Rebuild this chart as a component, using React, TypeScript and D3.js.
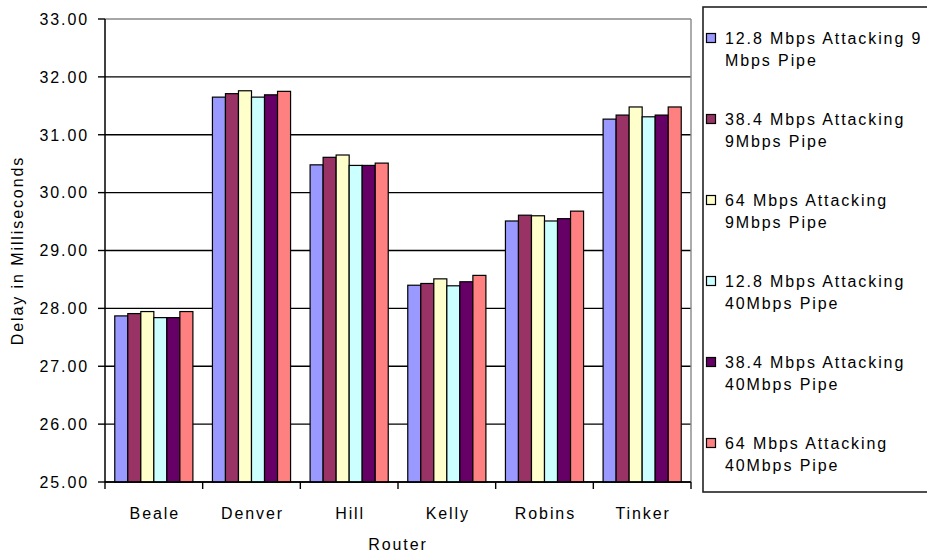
import React from "react";
import * as d3 from "d3";

const categories = ["Beale", "Denver", "Hill", "Kelly", "Robins", "Tinker"];
const seriesLabels = [
  ["12.8 Mbps Attacking 9", "Mbps Pipe"],
  ["38.4 Mbps Attacking", "9Mbps Pipe"],
  ["64 Mbps Attacking", "9Mbps Pipe"],
  ["12.8 Mbps Attacking", "40Mbps Pipe"],
  ["38.4 Mbps Attacking", "40Mbps Pipe"],
  ["64 Mbps Attacking", "40Mbps Pipe"],
];
const seriesColors = ["#9999FF", "#993366", "#FFFFCC", "#CCFFFF", "#660066", "#FF8080"];
const s1 = [27.87, 31.65, 30.48, 28.4, 29.51, 31.27];
const s2 = [27.91, 31.71, 30.61, 28.43, 29.61, 31.34];
const s3 = [27.945, 31.76, 30.65, 28.51, 29.6, 31.48];
const s4 = [27.84, 31.65, 30.47, 28.39, 29.51, 31.31];
const s5 = [27.84, 31.69, 30.47, 28.46, 29.55, 31.34];
const s6 = [27.945, 31.75, 30.51, 28.57, 29.68, 31.48];
const seriesValues = [s1, s2, s3, s4, s5, s6];
const yTicks = [25, 26, 27, 28, 29, 30, 31, 32, 33];

const FONT = "'Liberation Sans', Arial, sans-serif";
const LS = 1.9;
const FS = 16;

export default function App() {
  const left = 105, right = 691, top = 19, bottom = 482;
  const y = d3.scaleLinear().domain([25, 33]).range([bottom, top]);
  const x = d3.scaleBand<string>().domain(categories).range([left, right]).padding(0);
  const bw = x.bandwidth();
  const barW = bw / 7.5;
  const gap = bw - barW * 6;
  const xs = d3
    .scaleBand<number>()
    .domain(d3.range(seriesValues.length))
    .range([gap / 2, bw - gap / 2])
    .padding(0);

  const legendX = 703, legendTop = 7, legendBottom = 492;
  const itemY0 = 38, itemStep = 81, lineStep = 22;

  return (
    <svg
      width={927}
      height={554}
      style={{ position: "absolute", left: 0, top: 0, background: "#fff" }}
      fontFamily={FONT}
    >
      <rect x={0} y={0} width={927} height={554} fill="#fff" />
      {yTicks.map((t) => (
        <line
          key={"g" + t}
          x1={left}
          x2={right}
          y1={y(t)}
          y2={y(t)}
          stroke={t === 33 ? "#888" : "#000"}
          strokeWidth={1.4}
        />
      ))}
      <line x1={right} x2={right} y1={top} y2={bottom} stroke="#888" strokeWidth={1.4} />
      {seriesValues.map((vals, si) =>
        vals.map((v, ci) => (
          <rect
            key={si + "-" + ci}
            x={(x(categories[ci]) as number) + (xs(si) as number)}
            y={y(v)}
            width={xs.bandwidth()}
            height={y(25) - y(v)}
            fill={seriesColors[si]}
            stroke="#000"
            strokeWidth={1.2}
          />
        ))
      )}
      <line x1={left} x2={left} y1={top} y2={bottom} stroke="#000" strokeWidth={1.5} />
      <line x1={left} x2={right} y1={bottom} y2={bottom} stroke="#000" strokeWidth={1.5} />
      {yTicks.map((t) => (
        <g key={"yt" + t}>
          <line x1={left - 7} x2={left} y1={y(t)} y2={y(t)} stroke="#000" strokeWidth={1.4} />
          <text
            x={89}
            y={y(t)}
            dy="0.36em"
            textAnchor="end"
            fontSize={FS}
            letterSpacing={LS}
            fill="#000"
          >
            {d3.format(".2f")(t)}
          </text>
        </g>
      ))}
      {d3.range(categories.length + 1).map((i) => (
        <line
          key={"xt" + i}
          x1={left + i * bw}
          x2={left + i * bw}
          y1={bottom}
          y2={bottom + 7}
          stroke="#000"
          strokeWidth={1.4}
        />
      ))}
      {categories.map((c) => (
        <text
          key={c}
          x={(x(c) as number) + bw / 2 + LS / 2}
          y={519}
          textAnchor="middle"
          fontSize={FS}
          letterSpacing={LS}
          fill="#000"
        >
          {c}
        </text>
      ))}
      <text
        x={(left + right) / 2}
        y={550}
        textAnchor="middle"
        fontSize={FS}
        letterSpacing={LS}
        fill="#000"
      >
        Router
      </text>
      <text
        transform={`translate(23, ${(top + bottom) / 2}) rotate(-90)`}
        textAnchor="middle"
        fontSize={FS}
        letterSpacing={LS}
        fill="#000"
      >
        Delay in Milliseconds
      </text>
      <rect
        x={legendX}
        y={legendTop}
        width={240}
        height={legendBottom - legendTop}
        fill="#fff"
        stroke="#222"
        strokeWidth={1.6}
      />
      {seriesLabels.map((lines, i) => {
        const cy = itemY0 + i * itemStep;
        return (
          <g key={"lg" + i}>
            <rect
              x={706.5}
              y={cy - 4.5}
              width={9}
              height={9}
              fill={seriesColors[i]}
              stroke="#000"
              strokeWidth={1.2}
            />
            {lines.map((ln, li) => (
              <text
                key={li}
                x={725}
                y={cy + li * lineStep}
                dy="0.36em"
                fontSize={FS}
                letterSpacing={LS}
                fill="#000"
              >
                {ln}
              </text>
            ))}
          </g>
        );
      })}
    </svg>
  );
}
